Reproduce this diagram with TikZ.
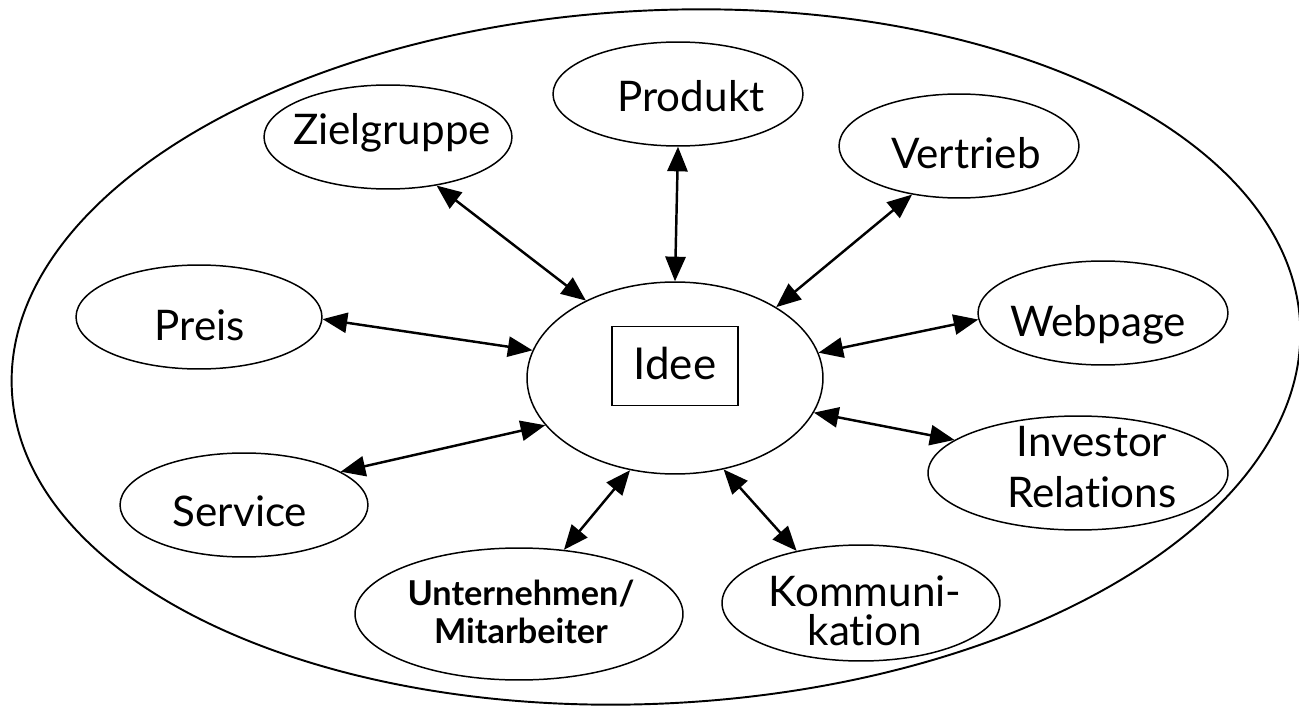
\documentclass[tikz,border=0pt]{standalone}
\usepackage{fontspec}
\setmainfont{Lato}[Ligatures={NoCommon}]
\usetikzlibrary{shapes.geometric,arrows.meta}
\begin{document}
\begin{tikzpicture}[x=0.02cm,y=-0.02cm,
  bub/.style={draw,ellipse,line width=0.85pt,inner sep=0pt},
  word/.style={inner sep=0pt,font=\fontsize{24}{29}\selectfont,align=center},
  link/.style={line width=1.4pt,
    {Triangle[length=14pt,width=11.5pt]}-{Triangle[length=14pt,width=11.5pt]}}
]
\useasboundingbox (0,0) rectangle (1299,706);

% surrounding frame
\draw[line width=1.1pt,rotate around={3:(656,357)}]
  (656,357) ellipse [x radius=645,y radius=346.5];

% central idea
\node[bub,minimum width=5.92cm,minimum height=3.84cm] (idee) at (675,378) {};
\node[draw,line width=0.85pt,minimum width=2.52cm,minimum height=1.58cm,inner sep=0pt] (ideebox) at (675,366) {};
\node[word,anchor=base,font=\fontsize{25}{30}\selectfont] at (675,379) {Idee};

% surrounding topics
\node[bub,minimum width=5.0cm,minimum height=2.08cm]  (prod)  at (678,94)   {};
\node[bub,minimum width=4.96cm,minimum height=2.08cm] (ziel)  at (388,137)  {};
\node[bub,minimum width=4.8cm,minimum height=2.08cm]  (vert)  at (959,146)  {};
\node[bub,minimum width=4.92cm,minimum height=2.08cm] (preis) at (199,317)  {};
\node[bub,minimum width=5.0cm,minimum height=2.08cm]  (web)   at (1103,313) {};
\node[bub,minimum width=6.0cm,minimum height=2.28cm]  (inv)   at (1078,473) {};
\node[bub,minimum width=4.96cm,minimum height=2.08cm] (serv)  at (244,505)  {};
\node[bub,minimum width=6.56cm,minimum height=2.64cm] (unt)   at (519,614)  {};
\node[bub,minimum width=5.56cm,minimum height=2.32cm] (komm)  at (861,603)  {};

% labels
\node[word,anchor=base] at (691,112)  {Produkt};
\node[word,anchor=base] at (392,145)  {Zielgruppe};
\node[word,anchor=base] at (966,169)  {Vertrieb};
\node[word,anchor=base] at (200,340)  {Preis};
\node[word,anchor=base] at (1098,336) {Webpage};
\node[word,anchor=base] at (240,526)  {Service};
\node[word] at (1092,467.5) {Investor\\Relations};
\node[word,font=\fontsize{24}{22.2}\selectfont] at (865,610.5) {Kommuni-\\kation};
\node[word,font=\fontsize{19.5}{21.6}\selectfont\bfseries] at (521,612) {Unternehmen/\\Mitarbeiter};

% links to the idea
\draw[link] (prod.-90)    -- (idee.90);
\draw[link] (ziel.-45.6)  -- (idee.139.7);
\draw[link] (vert.-134.5) -- (idee.35.4);
\draw[link] (preis.-1.9)  -- (idee.169.8);
\draw[link] (web.183.8)   -- (idee.10.6);
\draw[link] (inv.165.8)   -- (idee.-14.3);
\draw[link] (serv.19.2)   -- (idee.200);
\draw[link] (unt.55.1)    -- (idee.-116);
\draw[link] (komm.141.8)  -- (idee.-62.7);
\end{tikzpicture}
\end{document}
